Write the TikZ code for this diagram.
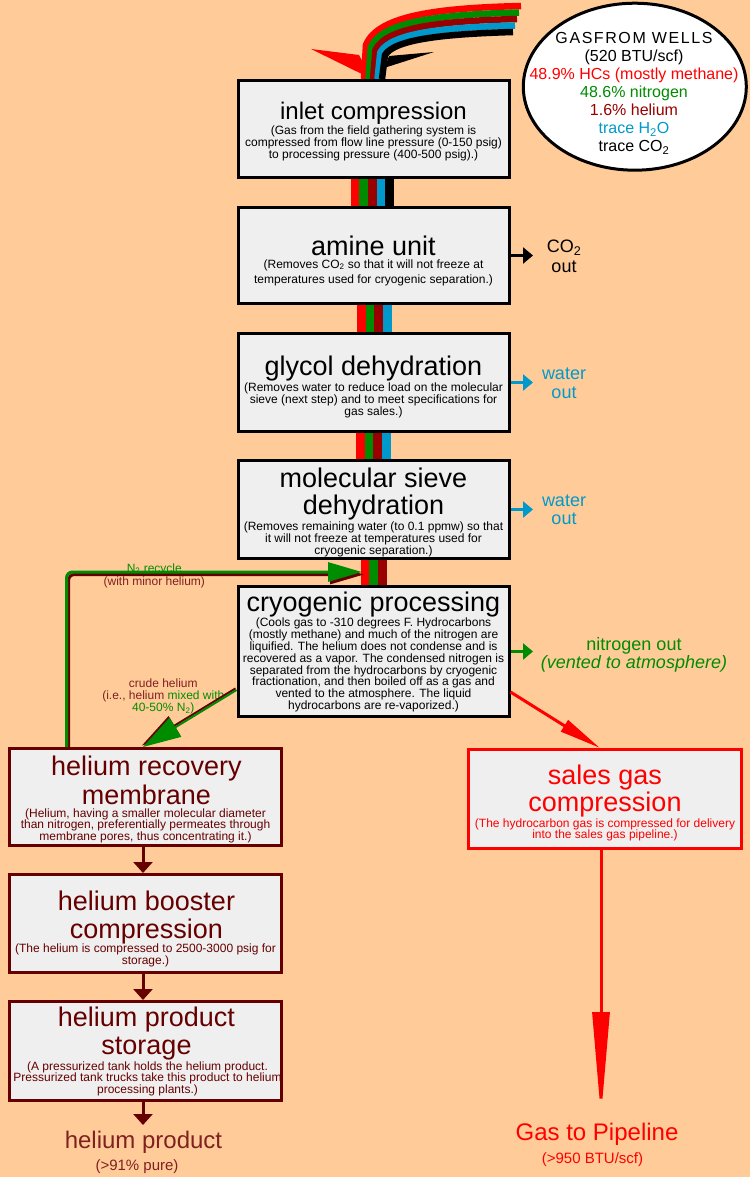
\documentclass[tikz,border=0pt]{standalone}
\usepackage{fontspec}
\setmainfont{Liberation Sans}
\usetikzlibrary{arrows.meta,shapes.geometric,calc}
\definecolor{bg}{RGB}{255,204,153}
\definecolor{boxfill}{RGB}{239,239,239}
\definecolor{cred}{RGB}{255,0,0}
\definecolor{cgreen}{RGB}{0,140,0}
\definecolor{cdred}{RGB}{153,0,0}
\definecolor{cblue}{RGB}{0,153,204}
\definecolor{hred}{RGB}{102,0,0}
\definecolor{hlab}{RGB}{128,32,32}
\begin{document}
\begin{tikzpicture}[x=1pt,y=-1pt,
  box/.style={draw=black,line width=3pt,fill=boxfill,inner sep=0pt,minimum width=271pt},
  hbox/.style={box,draw=hred},
  sbox/.style={box,draw=cred},
  ttl/.style={inner sep=0pt,align=center,font=\fontsize{27}{27.8}\selectfont},
  dsc/.style={inner sep=0pt,align=center,font=\fontsize{12}{11.6}\selectfont},
  band/.style={line width=6.5pt,line join=round},
  stripe/.style={line width=8.9pt},
  sidearrow/.style={line width=3pt,-{Triangle[width=16pt,length=10pt]}},
  harrow/.style={line width=3pt,draw=hred,-{Triangle[width=19pt,length=11pt]}},
  sidelab/.style={inner sep=0pt,align=center},
  plain/.style={inner sep=0pt,align=center}
]
\fill[bg] (0,0) rectangle (750,1177);
\useasboundingbox (0,0) rectangle (750,1177);

% incoming gas stream (banded arrow)
\fill[cred] (311,49) -- (359,55) -- (372,79) -- cycle;
\draw[band,cred] (521,6) .. controls (440,8) and (378,15) .. (366,45) -- (364,79);
\draw[band,cgreen] (519,12.5) .. controls (441.25,14.5) and (382.25,21) .. (370.75,47.5) -- (368.5,79);
\draw[band,cdred] (517,19) .. controls (442.5,21) and (386.5,27) .. (375.5,50) -- (373,79);
\draw[band,cblue] (515,25.5) .. controls (443.75,27.5) and (390.75,33) .. (380.25,52.5) -- (377.5,79);
\draw[band,black] (513,32) .. controls (445,34) and (395,39) .. (385,55) -- (382,79);
\fill[black] (434,52) -- (389,56) -- (381,79) -- (384,68) -- cycle;

% ellipse
\node[draw=black,line width=3pt,fill=white,ellipse,minimum width=223pt,minimum height=167pt,inner sep=0pt] (wells) at (634.8,86.7) {};
\node[plain,font=\fontsize{16}{18.07}\selectfont] (wellsT) at (634,93) {{\addfontfeature{LetterSpace=10}GAS\hspace{1.5pt}FROM WELLS}\\(520 BTU/scf)\\\textcolor{cred}{48.9\% HCs (mostly methane)}\\\textcolor{cgreen}{48.6\% nitrogen}\\\textcolor{cdred}{1.6\% helium}\\\textcolor{cblue}{trace H\textsubscript{2}O}\\trace CO\textsubscript{2}};

% main boxes
\node[box,minimum height=97pt] (inlet) at (373.5,129) {};
\node[ttl,font=\fontsize{24}{24}\selectfont] (inletT) at (373.5,113) {inlet compression};
\node[dsc,font=\fontsize{12}{11.67}\selectfont] (inletD) at (373.5,143.4) {(Gas from the field gathering system is\\compressed from flow line pressure (0-150 psig)\\to processing pressure (400-500 psig).)};

\node[box,minimum height=96pt] (amine) at (373.5,255.5) {};
\node[ttl] (amineT) at (373.5,245.5) {amine unit};
\node[dsc,font=\fontsize{12}{15}\selectfont] (amineD) at (373.5,272.5) {(Removes CO\textsubscript{2} so that it will not freeze at\\temperatures used for cryogenic separation.)};

\node[box,minimum height=98pt] (glycol) at (373.5,382.5) {};
\node[ttl] (glycolT) at (373.5,369) {glycol dehydration};
\node[dsc,font=\fontsize{12}{12}\selectfont] (glycolD) at (373.5,400.2) {(Removes water to reduce load on the molecular\\sieve (next step) and to meet specifications for\\gas sales.)};

\node[box,minimum height=98pt] (sieve) at (373.5,509.5) {};
\node[ttl,font=\fontsize{27}{27.3}\selectfont] (sieveT) at (373.5,494) {molecular sieve\\dehydration};
\node[dsc,font=\fontsize{12}{10.9}\selectfont] (sieveD) at (373.5,539.2) {(Removes remaining water (to 0.1 ppmw) so that\\it will not freeze at temperatures used for\\cryogenic separation.)};

\node[box,minimum height=130pt] (cryo) at (373.5,651.5) {};
\node[ttl] (cryoT) at (373.5,605) {cryogenic processing};
\node[dsc,font=\fontsize{12}{11.9}\selectfont] (cryoD) at (373.5,665) {(Cools gas to -310 degrees F. Hydrocarbons\\(mostly methane) and much of the nitrogen are\\liquified. The helium does not condense and is\\recovered as a vapor. The condensed nitrogen is\\separated from the hydrocarbons by cryogenic\\fractionation, and then boiled off as a gas and\\vented to the atmosphere. The liquid\\hydrocarbons are re-vaporized.)};

% helium boxes
\node[hbox,minimum width=272pt,minimum height=97pt] (herec) at (145.5,797) {};
\node[ttl,text=hred,font=\fontsize{27}{28.3}\selectfont] (herecT) at (146.5,780.2) {helium recovery\\membrane};
\node[dsc,text=hred,font=\fontsize{12}{11.3}\selectfont] (herecD) at (145.5,825.8) {(Helium, having a smaller molecular diameter\\than nitrogen, preferentially permeates through\\membrane pores, thus concentrating it.)};

\node[hbox,minimum width=272pt,minimum height=98pt] (hboost) at (145.5,923.5) {};
\node[ttl,text=hred,font=\fontsize{27}{28.3}\selectfont] (hboostT) at (146.5,917.4) {helium booster\\compression};
\node[dsc,text=hred,font=\fontsize{12}{10.7}\selectfont] (hboostD) at (145.5,955.3) {(The helium is compressed to 2500-3000 psig for\\storage.)};

\node[hbox,minimum width=272pt,minimum height=99pt] (hstor) at (145.5,1051) {};
\node[ttl,text=hred,font=\fontsize{27}{27.6}\selectfont] (hstorT) at (146.5,1033.7) {helium product\\storage};
\node[dsc,text=hred,font=\fontsize{12}{11.3}\selectfont] (hstorD) at (147.5,1078.7) {(A pressurized tank holds the helium product.\\Pressurized tank trucks take this product to helium\\processing plants.)};

% sales gas box
\node[sbox,minimum width=273pt,minimum height=99pt] (sales) at (605,799) {};
\node[ttl,text=cred,font=\fontsize{27}{27.4}\selectfont] (salesT) at (605,791.2) {sales gas\\compression};
\node[dsc,text=cred,font=\fontsize{12}{11.4}\selectfont] (salesD) at (605,830) {(The hydrocarbon gas is compressed for delivery\\into the sales gas pipeline.)};

% stripes between main boxes
\draw[stripe,cred]   ([xshift=-18.2pt]inlet.south) -- ([xshift=-18.2pt]amine.north);
\draw[stripe,cgreen] ([xshift=-9.6pt]inlet.south) -- ([xshift=-9.6pt]amine.north);
\draw[stripe,cdred]  ([xshift=-1pt]inlet.south) -- ([xshift=-1pt]amine.north);
\draw[stripe,cblue]  ([xshift=7.6pt]inlet.south) -- ([xshift=7.6pt]amine.north);
\draw[stripe,black]  ([xshift=16.2pt]inlet.south) -- ([xshift=16.2pt]amine.north);

\draw[stripe,cred]   ([xshift=-12.1pt]amine.south) -- ([xshift=-12.1pt]glycol.north);
\draw[stripe,cgreen] ([xshift=-3.4pt]amine.south) -- ([xshift=-3.4pt]glycol.north);
\draw[stripe,cdred]  ([xshift=5.4pt]amine.south) -- ([xshift=5.4pt]glycol.north);
\draw[stripe,cblue]  ([xshift=14.1pt]amine.south) -- ([xshift=14.1pt]glycol.north);

\draw[stripe,cred]   ([xshift=-13.1pt]glycol.south) -- ([xshift=-13.1pt]sieve.north);
\draw[stripe,cgreen] ([xshift=-4.4pt]glycol.south) -- ([xshift=-4.4pt]sieve.north);
\draw[stripe,cdred]  ([xshift=4.4pt]glycol.south) -- ([xshift=4.4pt]sieve.north);
\draw[stripe,cblue]  ([xshift=13.1pt]glycol.south) -- ([xshift=13.1pt]sieve.north);

\draw[stripe,cred]   ([xshift=-8.5pt]sieve.south) -- ([xshift=-8.5pt]cryo.north);
\draw[stripe,cgreen] ([xshift=0pt]sieve.south) -- ([xshift=0pt]cryo.north);
\draw[stripe,cdred]  ([xshift=8.7pt]sieve.south) -- ([xshift=8.7pt]cryo.north);

% side outputs
\coordinate (co2tip) at (533,255.5);
\coordinate (w1tip) at (533,382.5);
\coordinate (w2tip) at (533,509.5);
\coordinate (n2tip) at (533,651.5);
\draw[sidearrow,black] (amine.east) -- (co2tip);
\draw[sidearrow,cblue] (glycol.east) -- (w1tip);
\draw[sidearrow,cblue] (sieve.east) -- (w2tip);
\draw[sidearrow,cgreen] (cryo.east) -- (n2tip);
\node[sidelab,font=\fontsize{18}{20}\selectfont] (co2lab) at (564,256.8) {CO\textsubscript{2}\\out};
\node[sidelab,text=cblue,font=\fontsize{18}{18.3}\selectfont] (w1lab) at (564,383.2) {water\\out};
\node[sidelab,text=cblue,font=\fontsize{18}{18.3}\selectfont] (w2lab) at (564,510) {water\\out};
\node[sidelab,text=cgreen,font=\fontsize{18}{17.5}\selectfont] (n2lab) at (634,655) {nitrogen out\\\textit{(vented to atmosphere)}};

% N2 recycle
\node[plain,text=cgreen,font=\fontsize{12}{12}\selectfont] (n2rec) at (154.3,569) {N\textsubscript{2} recycle};
\node[plain,text=hlab,font=\fontsize{12}{12}\selectfont] (n2minor) at (154.3,582.3) {(with minor helium)};
\draw[line width=3pt,hred,rounded corners=6pt,transform canvas={shift={(2pt,-2.5pt)}},-{Triangle[width=19pt,length=34pt]}]
  ([xshift=-79pt]herec.north) |- ($(cryo.north)+(-11.5,-13)$);
\draw[line width=3pt,cgreen,rounded corners=6pt,-{Triangle[width=19pt,length=34pt]}]
  ([xshift=-79pt]herec.north) |- ($(cryo.north)+(-11.5,-13)$);

% crude helium
\node[plain,text=hlab,font=\fontsize{12}{12.2}\selectfont] (crude) at (163.3,696.5) {crude helium\\(i.e., helium \textcolor{cgreen}{mixed with}\\\textcolor{cgreen}{40-50\% N\textsubscript{2})}};
\draw[line width=2pt,hred,transform canvas={shift={(-1.0pt,1.6pt)}},-{Triangle[width=22pt,length=38pt]}]
  ([yshift=-38.5pt]cryo.west) -- ([xshift=-2.5pt]herec.north);
\draw[line width=2pt,cgreen,-{Triangle[width=22pt,length=38pt]}]
  ([yshift=-38.5pt]cryo.west) -- ([xshift=-2.5pt]herec.north);

% sales gas path
\draw[line width=3pt,cred,-{Triangle[width=13pt,length=42pt]}] ([yshift=-40.5pt]cryo.east) -- ([xshift=-5pt]sales.north);
\coordinate (pipetip) at (601,1117);
\draw[line width=3pt,cred,-{Triangle[width=17pt,length=105pt]}] ([xshift=-4pt]sales.south) -- (pipetip);
\node[plain,text=cred,font=\fontsize{24}{24}\selectfont] (gaspipe) at (597,1134.5) {Gas to Pipeline};
\node[plain,text=cred,font=\fontsize{15}{15}\selectfont] (gasbtu) at (592.5,1160) {(>950 BTU/scf)};

% helium chain
\draw[harrow] ([xshift=-2.5pt]herec.south) -- ([xshift=-2.5pt]hboost.north);
\draw[harrow] ([xshift=-2.5pt]hboost.south) -- ([xshift=-2.5pt]hstor.north);
\coordinate (hetip) at (143,1125);
\draw[harrow] ([xshift=-2.5pt]hstor.south) -- (hetip);
\node[plain,text=hlab,font=\fontsize{24}{24}\selectfont] (heprod) at (143.5,1142) {helium product};
\node[plain,text=hlab,font=\fontsize{15}{15}\selectfont] (hepure) at (137,1167) {(>91\% pure)};
\end{tikzpicture}
\end{document}
